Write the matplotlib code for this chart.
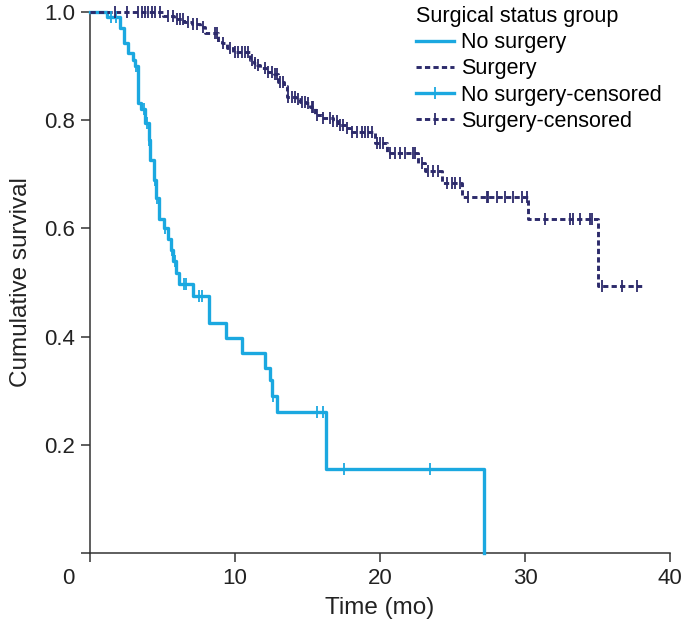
import numpy as np
import matplotlib.pyplot as plt
from matplotlib.lines import Line2D

# Kaplan-Meier steps (time in months, survival after the drop)
no_surg_t = [1.17, 2.07, 2.35, 2.62, 2.95, 3.1, 3.3, 3.55, 3.8, 4.05, 4.15, 4.4, 4.55, 4.75,
             5.1, 5.35, 5.6, 5.75, 5.95, 6.15, 7.1, 8.2, 9.4, 10.5, 12.1, 12.4, 12.55, 12.9,
             16.3, 27.2]
no_surg_s = [0.991, 0.970, 0.943, 0.924, 0.911, 0.900, 0.832, 0.820, 0.795, 0.763, 0.726,
             0.690, 0.656, 0.618, 0.600, 0.580, 0.560, 0.540, 0.518, 0.497, 0.475, 0.425,
             0.397, 0.370, 0.342, 0.320, 0.290, 0.261, 0.155, 0.0]
no_surg_cens = [1.45, 1.8, 3.2, 3.7, 3.9, 4.1, 4.5, 4.65, 5.2, 5.65, 5.85, 6.5, 6.65, 7.5,
                7.7, 12.65, 15.65, 16.05, 17.5, 23.45]
no_surg_end = 27.2

surg_t = [5.0, 5.8, 6.5, 7.0, 7.6, 7.93, 8.83, 9.1, 9.45, 9.85, 11.03, 11.3, 11.5, 11.72,
          12.14, 12.7, 12.97, 13.4, 13.6, 14.2, 14.5, 14.9, 15.17, 15.5, 16.0, 16.76, 17.1,
          17.66, 17.93, 19.66, 20.48, 22.6, 23.1, 24.28, 25.66, 30.2, 35.03]
surg_s = [0.993, 0.987, 0.982, 0.978, 0.972, 0.961, 0.945, 0.943, 0.933, 0.926, 0.911,
          0.906, 0.902, 0.896, 0.889, 0.885, 0.871, 0.863, 0.842, 0.839, 0.834, 0.832,
          0.824, 0.810, 0.804, 0.799, 0.791, 0.786, 0.778, 0.758, 0.739, 0.721, 0.706,
          0.684, 0.658, 0.617, 0.494]
surg_cens = [1.72, 2.55, 3.31, 3.59, 3.79, 4.0, 4.28, 4.48, 4.83, 5.38, 5.72, 6.0, 6.21,
             6.41, 6.76, 7.1, 7.38, 7.79, 8.62, 8.75, 9.2, 9.66, 10.0, 10.21, 10.48, 10.69,
             10.9, 11.17, 11.38, 11.59, 12.07, 12.28, 12.55, 12.76, 12.9, 13.1, 13.31, 13.66,
             13.93, 14.14, 14.34, 14.62, 14.83, 15.03, 15.31, 15.38, 15.66, 16.07, 16.55,
             16.76, 17.03, 17.24, 17.45, 17.72, 18.07, 18.41, 18.76, 18.97, 19.17, 19.45,
             19.79, 20.0, 20.21, 20.69, 21.03, 21.38, 21.72, 22.28, 22.41, 22.9, 23.31, 23.66,
             24.0, 24.62, 24.97, 25.17, 25.52, 26.07, 27.38, 27.45, 28.07, 28.62, 29.17,
             29.79, 30.14, 31.38, 33.1, 33.31, 33.79, 34.48, 34.62, 35.31, 36.69, 37.72]
surg_end = 38.07

x_ticks = [0, 10, 20, 30, 40]
y_ticks = [0, 0.2, 0.4, 0.6, 0.8, 1.0]

blue = '#1ba8e0'
navy = '#2c2a6b'


def step_xy(times, surv, end):
    xs = np.concatenate([[0], times, [end]])
    ys = np.concatenate([[1.0], surv, [surv[-1]]])
    return xs, ys


def surv_at(times, surv, t):
    idx = np.searchsorted(times, t, side='right')
    s = np.concatenate([[1.0], surv])
    return s[idx]


plt.rcParams['font.family'] = ['Liberation Sans', 'DejaVu Sans']

fig = plt.figure(figsize=(6.82, 6.30), dpi=100)
ax = fig.add_axes([90 / 682, 1 - 553 / 630, 580 / 682, 541 / 630])

xs, ys = step_xy(no_surg_t, no_surg_s, no_surg_end)
ax.step(xs, ys, where='post', color=blue, lw=2.4, clip_on=False, zorder=3)
ax.plot(no_surg_cens, surv_at(np.array(no_surg_t), no_surg_s, np.array(no_surg_cens)),
        ls='none', marker='|', ms=8, mew=1.3, color=blue, clip_on=False, zorder=4)

xs, ys = step_xy(surg_t, surg_s, surg_end)
ax.step(xs, ys, where='post', color=navy, lw=2.1, ls=(0, (1.8, 1.1)), clip_on=False, zorder=3)
ax.plot(surg_cens, surv_at(np.array(surg_t), surg_s, np.array(surg_cens)),
        ls='none', marker='|', ms=8, mew=1.3, color=navy, clip_on=False, zorder=4)

ax.set_xlim(0, 40)
ax.set_ylim(0, 1.0)
ax.set_xticks(x_ticks)
ax.set_xticklabels([''] + [str(v) for v in x_ticks[1:]])
ax.set_yticks(y_ticks)
ax.set_yticklabels([''] + ['%.1f' % v for v in y_ticks[1:]])
ax.text(-0.038, -0.047, '0', transform=ax.transAxes, ha='center', va='center',
        fontsize=16, color='#222222')

for side in ['top', 'right']:
    ax.spines[side].set_visible(False)
for side in ['left', 'bottom']:
    ax.spines[side].set_color('#333333')
    ax.spines[side].set_linewidth(1.1)
ax.tick_params(direction='out', length=6.5, width=1.1, color='#333333',
               labelsize=16, labelcolor='#222222', pad=4)

ax.set_xlabel('Time (mo)', fontsize=17.5, color='#222222', labelpad=6)
ax.set_ylabel('Cumulative survival', fontsize=17.5, color='#222222', labelpad=9)

handles = [
    Line2D([], [], color=blue, lw=2.4),
    Line2D([], [], color=navy, lw=2.1, ls=(0, (1.8, 1.1))),
    Line2D([], [], color=blue, lw=2.4, marker='|', ms=9, mew=1.3),
    Line2D([], [], color=navy, lw=2.1, ls=(0, (1.8, 1.1)), marker='|', ms=9, mew=1.3),
]
labels = ['No surgery', 'Surgery', 'No surgery-censored', 'Surgery-censored']
leg = fig.legend(handles, labels, title='Surgical status group', loc='upper left',
                 bbox_to_anchor=(401 / 682, 1 + 9 / 630), frameon=False, fontsize=15.5,
                 title_fontsize=15.5, handlelength=1.75, handletextpad=0.35,
                 labelspacing=0.24, numpoints=1, alignment='left', borderpad=0.2)

fig.savefig('out.png', dpi=100)
